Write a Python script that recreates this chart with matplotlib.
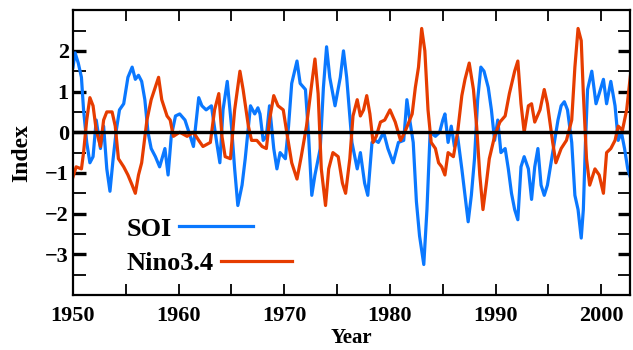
import matplotlib
matplotlib.use('Agg')
import matplotlib.pyplot as plt
from matplotlib.ticker import MultipleLocator

plt.rcParams['font.family'] = ['Liberation Serif', 'DejaVu Serif']
plt.rcParams['font.weight'] = 'bold'

# SOI (blue), values
soi_year = [1950.0, 1950.2, 1950.5, 1950.8, 1951.0, 1951.3, 1951.6, 1951.9, 1952.2, 1952.6,
            1952.9, 1953.2, 1953.5, 1953.8, 1954.1, 1954.4, 1954.8, 1955.2, 1955.6, 1955.9,
            1956.2, 1956.5, 1956.8, 1957.1, 1957.4, 1957.8, 1958.2, 1958.7, 1959.0, 1959.3,
            1959.7, 1960.1, 1960.6, 1961.1, 1961.4, 1961.9, 1962.2, 1962.6, 1963.1, 1963.6,
            1963.9, 1964.2, 1964.6, 1965.0, 1965.3, 1965.6, 1966.0, 1966.3, 1966.8, 1967.2,
            1967.5, 1967.7, 1968.0, 1968.3, 1968.6, 1969.0, 1969.3, 1969.6, 1970.1, 1970.4,
            1970.7, 1971.2, 1971.5, 1972.0, 1972.3, 1972.6, 1972.9, 1973.4, 1973.7, 1974.0,
            1974.3, 1974.8, 1975.3, 1975.6, 1975.9, 1976.4, 1976.9, 1977.2, 1977.6, 1977.9,
            1978.3, 1978.6, 1978.9, 1979.4, 1979.8, 1980.3, 1980.8, 1981.3, 1981.6, 1981.9,
            1982.2, 1982.5, 1982.8, 1983.2, 1983.5, 1983.8, 1984.3, 1984.7, 1985.0, 1985.2,
            1985.5, 1985.8, 1986.1, 1986.4, 1986.8, 1987.1, 1987.4, 1987.7, 1988.0, 1988.3,
            1988.6, 1988.9, 1989.3, 1989.6, 1989.9, 1990.2, 1990.5, 1990.9, 1991.2, 1991.5,
            1991.8, 1992.1, 1992.4, 1992.7, 1993.1, 1993.4, 1993.7, 1994.0, 1994.3, 1994.6,
            1994.9, 1995.4, 1995.9, 1996.2, 1996.5, 1996.8, 1997.2, 1997.5, 1997.8, 1998.1,
            1998.3, 1998.5, 1998.7, 1999.1, 1999.5, 1999.8, 2000.2, 2000.5, 2000.9, 2001.3,
            2001.6, 2001.9, 2002.2, 2002.5, 2002.8]
soi_val = [1.6, 1.95, 1.7, 1.35, 0.55, -0.25, -0.75, -0.6, 0.3, -0.4,
           0.15, -0.9, -1.45, -0.65, 0.05, 0.55, 0.7, 1.35, 1.6, 1.3,
           1.4, 1.25, 0.8, 0.0, -0.4, -0.6, -0.85, -0.4, -1.05, -0.1,
           0.4, 0.45, 0.3, -0.1, -0.35, 0.85, 0.65, 0.55, 0.65, -0.25,
           -0.75, 0.55, 1.25, 0.15, -0.9, -1.8, -1.3, -0.65, 0.65, 0.45,
           0.6, 0.45, -0.2, -0.1, 0.65, -0.4, -0.9, -0.5, -0.65, 0.15,
           1.2, 1.75, 1.2, 1.05, -0.1, -1.55, -1.05, -0.4, 1.1, 2.1,
           1.35, 0.65, 1.35, 2.0, 1.35, -0.25, -0.9, -0.5, -1.25, -1.55,
           -0.25, -0.2, -0.25, 0.0, -0.4, -0.75, -0.25, -0.2, 0.8, 0.25,
           -0.25, -1.7, -2.55, -3.25, -1.9, 0.0, -0.1, 0.0, 0.3, 0.45,
           -0.25, 0.15, -0.35, -0.1, -0.9, -1.55, -2.2, -1.55, -0.65, 0.8,
           1.6, 1.5, 1.1, 0.55, -0.2, 0.3, -0.5, -0.4, -0.9, -1.5,
           -1.9, -2.15, -0.85, -0.6, -0.9, -1.65, -0.85, -0.4, -1.3, -1.55,
           -1.3, -0.5, 0.3, 0.65, 0.75, 0.55, -0.25, -1.55, -1.9, -2.6,
           -1.9, -0.25, 1.05, 1.5, 0.7, 0.95, 1.3, 0.7, 1.25, 0.65,
           -0.2, 0.0, -0.4, -0.9, -1.15]

# Nino3.4 (red)
nino_year = [1950.0, 1950.3, 1950.8, 1951.0, 1951.3, 1951.6, 1951.9, 1952.2, 1952.6, 1952.9,
             1953.2, 1953.7, 1954.0, 1954.3, 1954.8, 1955.2, 1955.6, 1955.9, 1956.2, 1956.5,
             1957.0, 1957.4, 1958.1, 1958.4, 1958.9, 1959.2, 1959.5, 1960.1, 1960.8, 1961.4,
             1961.9, 1962.3, 1963.0, 1963.4, 1963.8, 1964.1, 1964.4, 1964.9, 1965.3, 1965.8,
             1966.1, 1966.6, 1966.9, 1967.4, 1967.9, 1968.3, 1968.6, 1969.0, 1969.4, 1969.9,
             1970.2, 1970.7, 1971.2, 1971.6, 1972.1, 1972.6, 1972.9, 1973.2, 1973.5, 1973.9,
             1974.2, 1974.6, 1975.1, 1975.5, 1975.8, 1976.2, 1976.5, 1976.9, 1977.2, 1977.5,
             1977.8, 1978.1, 1978.4, 1978.7, 1979.1, 1979.5, 1980.0, 1980.5, 1981.0, 1981.4,
             1982.1, 1982.4, 1982.7, 1983.0, 1983.3, 1983.6, 1983.9, 1984.3, 1984.6, 1984.9,
             1985.2, 1985.5, 1986.0, 1986.4, 1986.8, 1987.1, 1987.5, 1987.9, 1988.2, 1988.5,
             1988.8, 1989.1, 1989.4, 1989.9, 1990.4, 1990.9, 1991.3, 1991.8, 1992.1, 1992.4,
             1992.7, 1993.1, 1993.4, 1993.7, 1994.2, 1994.6, 1994.9, 1995.4, 1995.7, 1996.2,
             1996.7, 1997.2, 1997.5, 1997.8, 1998.1, 1998.3, 1998.6, 1998.9, 1999.4, 1999.8,
             2000.2, 2000.5, 2000.9, 2001.3, 2001.6, 2002.0, 2002.4, 2002.8]
nino_val = [-1.1, -0.85, -0.9, -0.5, 0.3, 0.85, 0.65, 0.05, -0.35, 0.3,
            0.5, 0.5, 0.15, -0.65, -0.85, -1.05, -1.3, -1.5, -1.05, -0.75,
            0.3, 0.8, 1.35, 0.8, 0.4, 0.3, -0.1, 0.0, -0.1, 0.0,
            -0.2, -0.35, -0.25, 0.55, 0.95, -0.1, -0.6, -0.65, 0.55, 1.5,
            1.05, 0.15, -0.2, -0.2, -0.35, -0.4, 0.3, 0.9, 0.65, 0.55,
            0.05, -0.75, -1.15, -0.6, 0.15, 1.2, 1.8, 0.95, -0.9, -1.8,
            -0.9, -0.5, -0.6, -1.25, -1.5, -0.65, 0.4, 0.8, 0.4, 0.55,
            0.9, 0.45, -0.25, -0.1, 0.25, 0.3, 0.55, 0.25, -0.2, 0.0,
            0.45, 1.1, 1.6, 2.55, 2.0, 0.55, -0.25, -0.4, -0.75, -0.85,
            -1.05, -0.5, -0.6, 0.0, 0.9, 1.3, 1.7, 1.05, 0.15, -1.05,
            -1.9, -1.3, -0.65, -0.1, 0.25, 0.4, 0.95, 1.5, 1.75, 0.7,
            0.0, 0.65, 0.7, 0.25, 0.55, 1.05, 0.7, -0.25, -0.75, -0.4,
            -0.2, 0.3, 1.6, 2.55, 2.25, 0.95, -0.65, -1.3, -0.9, -1.05,
            -1.5, -0.5, -0.4, -0.2, 0.15, 0.05, 0.55, 1.5]

blue = '#0a78ff'
red = '#e63c00'

fig = plt.figure(figsize=(6.33, 3.5), dpi=100)
ax = fig.add_axes([0.1153, 0.157, 0.8797, 0.814])

l1, = ax.plot(soi_year, soi_val, color=blue, lw=2.3)
l2, = ax.plot(nino_year, nino_val, color=red, lw=2.3)
ax.axhline(0, color='black', lw=2.4, zorder=5)

ax.set_xlim(1950, 2002.7)
ax.set_ylim(-4, 3)
ax.xaxis.set_major_locator(MultipleLocator(10))
ax.xaxis.set_minor_locator(MultipleLocator(5))
ax.yaxis.set_minor_locator(MultipleLocator(0.5))
ax.set_yticks([-3, -2, -1, 0, 1, 2])
ax.tick_params(axis='x', which='both', direction='in', top=True, length=8, width=1.3,
               labelsize=16, pad=8)
ax.tick_params(axis='y', which='major', direction='in', right=True, length=9, width=2.4,
               labelsize=16, pad=3)
ax.tick_params(axis='y', which='minor', direction='in', right=True, length=9, width=1.3)
for s in ax.spines.values():
    s.set_linewidth(1.6)

ax.set_xlabel('Year', fontsize=15, fontweight='bold', labelpad=1)
ax.set_ylabel('Index', fontsize=17, fontweight='bold', labelpad=9)

leg1 = ax.legend([l1], ['SOI'], loc='center left', bbox_to_anchor=(0.097, 0.232),
                 frameon=False, markerfirst=False, fontsize=19, handlelength=2.8,
                 handletextpad=0.25, borderpad=0, borderaxespad=0)
ax.add_artist(leg1)
ax.legend([l2], ['Nino3.4'], loc='center left', bbox_to_anchor=(0.097, 0.11),
          frameon=False, markerfirst=False, fontsize=19, handlelength=2.7,
          handletextpad=0.25, borderpad=0, borderaxespad=0)

fig.savefig('out.png', dpi=100)
